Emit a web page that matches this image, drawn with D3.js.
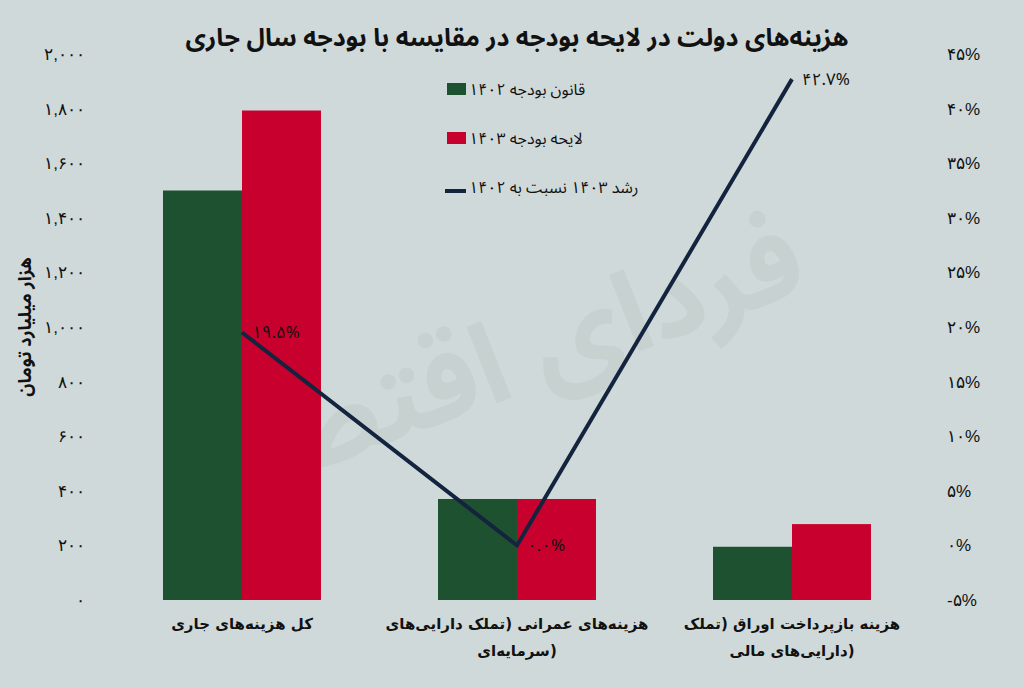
<!DOCTYPE html>
<html><head><meta charset="utf-8">
<script src="https://cdn.jsdelivr.net/npm/d3@7"></script>
<style>
html,body{margin:0;padding:0;background:#cfd9d9;}
svg{display:block;font-family:"Noto Sans Arabic","DejaVu Sans",sans-serif;}
</style></head>
<body><svg id="c" width="1024" height="688"></svg>
<script>
const categories = [
  ["کل هزینه‌های جاری"],
  ["هزینه‌های عمرانی (تملک دارایی‌های", "سرمایه‌ای)"],
  ["هزینه بازپرداخت اوراق (تملک", "دارایی‌های مالی)"]
];
const budget1402 = [1500, 370, 195];
const bill1403 = [1793, 370, 278];
const growth = [19.5, 0.0, 42.7];
const growthLabels = ["۱۹.۵%", "۰.۰%", "۴۲.۷%"];
const leftTicks = [0,200,400,600,800,1000,1200,1400,1600,1800,2000];
const leftTickLabels = ["۰","۲۰۰","۴۰۰","۶۰۰","۸۰۰","۱,۰۰۰","۱,۲۰۰","۱,۴۰۰","۱,۶۰۰","۱,۸۰۰","۲,۰۰۰"];
const rightTicks = [-5,0,5,10,15,20,25,30,35,40,45];
const rightTickLabels = ["-۵%","۰%","۵%","۱۰%","۱۵%","۲۰%","۲۵%","۳۰%","۳۵%","۴۰%","۴۵%"];
const seriesNames = ["قانون بودجه ۱۴۰۲", "لایحه بودجه ۱۴۰۳", "رشد ۱۴۰۳ نسبت به ۱۴۰۲"];
const title = "هزینه‌های دولت در لایحه بودجه در مقایسه با بودجه سال جاری";
const yTitle = "هزار میلیارد تومان";

const GREEN = "#1d5130", RED = "#c8002d", NAVY = "#14243f";
const svg = d3.select("#c");
svg.append("rect").attr("width",1024).attr("height",688).attr("fill","#cfd9d9");

// watermark
svg.append("text").attr("transform","translate(505,400) rotate(-20)")
  .attr("text-anchor","middle").attr("font-size",112).attr("font-weight","bold")
  .attr("fill","#bac6c4").attr("opacity",0.4).text("فردای اقتصاد");

const idx = d3.range(categories.length);
const x0 = d3.scaleBand().domain(idx).range([104.5, 929.5]).paddingInner(0.4255).paddingOuter(0.21275);
const x1 = d3.scaleBand().domain([0,1]).range([0, x0.bandwidth()]);
const yL = d3.scaleLinear().domain([0,2000]).range([600,54]);
const yR = d3.scaleLinear().domain([-5,45]).range([600,54]);

// left axis
const gl = svg.append("g").attr("transform","translate(85,0)")
  .call(d3.axisLeft(yL).tickValues(leftTicks).tickSize(0).tickPadding(0)
  .tickFormat((d,i)=>leftTickLabels[i]));
gl.select(".domain").remove();
gl.selectAll("text").attr("font-size",17).attr("fill","#111").attr("font-family",null);

// right axis
const gr = svg.append("g").attr("transform","translate(947,0)")
  .call(d3.axisRight(yR).tickValues(rightTicks).tickSize(0).tickPadding(0)
  .tickFormat((d,i)=>rightTickLabels[i]));
gr.select(".domain").remove();
gr.selectAll("text").attr("font-size",17).attr("fill","#111").attr("font-family",null);

// bars
const groups = svg.append("g").selectAll("g").data(idx).join("g")
  .attr("transform", i => `translate(${x0(i)},0)`);
groups.append("rect").attr("x",x1(0)).attr("width",x1.bandwidth())
  .attr("y", i=>yL(budget1402[i])).attr("height", i=>yL(0)-yL(budget1402[i])).attr("fill",GREEN);
groups.append("rect").attr("x",x1(1)).attr("width",x1.bandwidth())
  .attr("y", i=>yL(bill1403[i])).attr("height", i=>yL(0)-yL(bill1403[i])).attr("fill",RED);

// line
const cx = i => x0(i) + x0.bandwidth()/2;
svg.append("path").datum(idx)
  .attr("d", d3.line().x(cx).y(i=>yR(growth[i])))
  .attr("fill","none").attr("stroke",NAVY).attr("stroke-width",4).attr("stroke-linejoin","miter");
svg.append("g").selectAll("text").data(idx).join("text")
  .attr("x", i=>cx(i)+10).attr("y", i=>yR(growth[i])).attr("dy","0.35em")
  .attr("font-size",17).attr("fill","#111").text(i=>growthLabels[i]);

// category labels (one text element per line)
const lines = [];
idx.forEach(i => categories[i].forEach((t,k) => lines.push({i,k,t})));
svg.append("g").selectAll("text").data(lines).join("text")
  .attr("x", d=>cx(d.i)).attr("y", d=>629 + d.k*27).attr("text-anchor","middle")
  .attr("font-family","DejaVu Sans")
  .attr("font-size",15).attr("font-weight","bold").attr("fill","#111").text(d=>d.t);

// title
svg.append("text").attr("x",517).attr("y",46).attr("text-anchor","middle")
  .attr("font-size",25).attr("font-weight","bold").attr("fill","#111").text(title);

// y title
svg.append("text").attr("transform","translate(31,327) rotate(-90)").attr("text-anchor","middle")
  .attr("font-size",18).attr("font-weight","bold").attr("fill","#111").text(yTitle);

// legend
const leg = svg.append("g");
const ly = [89, 138, 187];
leg.append("rect").attr("x",447).attr("y",ly[0]-6).attr("width",19).attr("height",12).attr("fill",GREEN);
leg.append("rect").attr("x",447).attr("y",ly[1]-6).attr("width",19).attr("height",12).attr("fill",RED);
leg.append("line").attr("x1",445).attr("x2",466).attr("y1",ly[2]+4).attr("y2",ly[2]+4)
  .attr("stroke",NAVY).attr("stroke-width",4);
leg.selectAll("text.l").data(seriesNames).join("text").attr("class","l")
  .attr("x",469).attr("y",(d,i)=>ly[i]).attr("dy","0.35em")
  .attr("font-size",16).attr("fill","#111").text(d=>d);
</script></body></html>
